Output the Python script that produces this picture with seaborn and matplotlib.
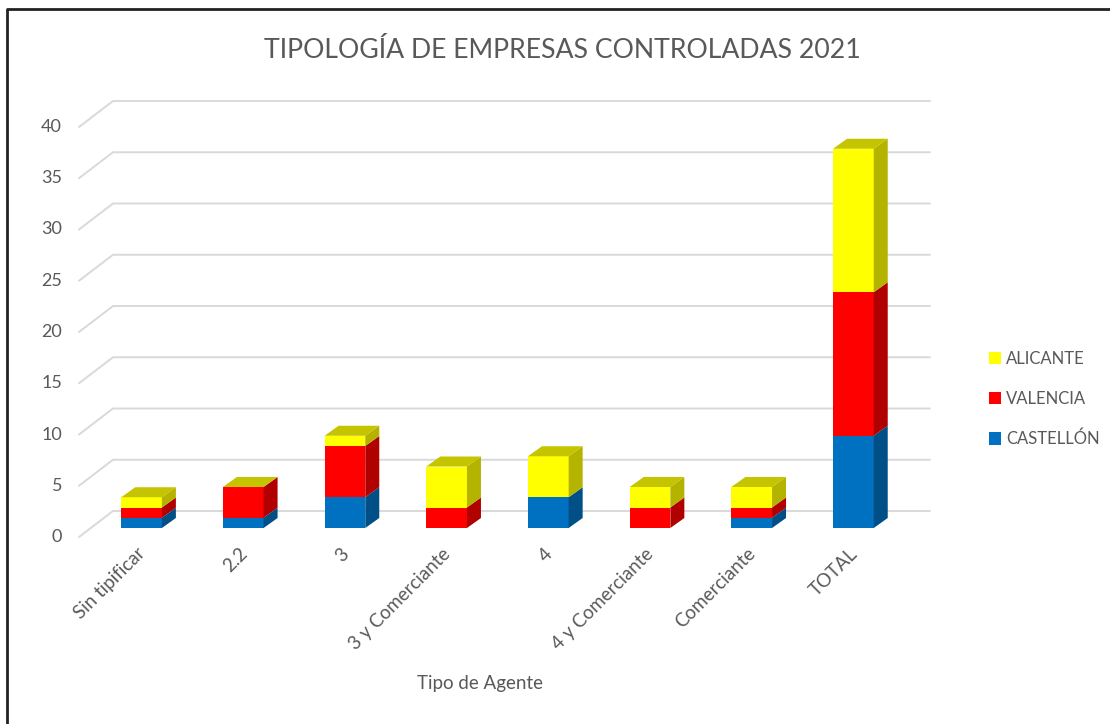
import numpy as np
import seaborn as sns
import matplotlib.pyplot as plt
from matplotlib.patches import Polygon, Patch
from matplotlib.lines import Line2D
from matplotlib import transforms

# datos
categorias = ["Sin tipificar", "2.2", "3", "3 y Comerciante", "4", "4 y Comerciante", "Comerciante", "TOTAL"]
castellon = [1, 1, 3, 0, 3, 0, 1, 9]
valencia = [1, 3, 5, 2, 0, 2, 1, 14]
alicante = [1, 0, 1, 4, 4, 2, 2, 14]
provincias = ["CASTELLÓN", "VALENCIA", "ALICANTE"]
yticks = list(range(0, 45, 5))

colores = {"CASTELLÓN": ("#0070C0", "#004F86"),
           "VALENCIA": ("#FF0000", "#B00000"),
           "ALICANTE": ("#FFFF00", "#B3B300")}
color_tapa = "#C4C400"
gris = "#595959"
gris_grid = "#D9D9D9"

sns.set_style("white")
plt.rcParams["font.family"] = ["Lato", "DejaVu Sans"]

W, H = 1110, 724
fig = plt.figure(figsize=(W / 100, H / 100), dpi=100)
ax = fig.add_axes([91 / W, (H - 528) / H, (908 - 91) / W, 430.5 / H])

valores = np.array([castellon, valencia, alicante])
tops = valores.cumsum(axis=0)
bottoms = tops - valores

# caras frontales, de la capa mas alta a la mas baja
for k in reversed(range(3)):
    sns.barplot(x=categorias, y=tops[k], order=categorias, color=colores[provincias[k]][0],
                saturation=1, width=0.4, linewidth=0, ax=ax, zorder=3)

ax.set_xlim(-0.497, 7.537)
ax.set_ylim(0, 42)
ax.set_axis_off()

ident = transforms.IdentityTransform()
depth = (14, 10)          # profundidad de las barras (px)
front = (-12, -9)         # plano de las etiquetas
back = (22, 17)           # plano de la rejilla


def disp(x, y):
    return ax.transData.transform((x, y))


# rejilla en perspectiva
x0 = ax.transAxes.transform((0, 0))[0]
x1 = ax.transAxes.transform((1, 0))[0]
for yv in yticks:
    Y = disp(0, yv)[1]
    ax.add_line(Line2D([x0 + front[0], x0 + back[0], x1 + back[0]],
                       [Y + front[1], Y + back[1], Y + back[1]],
                       transform=ident, color=gris_grid, lw=1.4, zorder=1, clip_on=False))
    ax.text(x0 + front[0] - 17, Y + front[1], str(yv), transform=ident, ha="right", va="center",
            fontsize=13, color=gris)

# caras laterales y superiores
barras = ax.patches[:len(categorias)]
for i, bar in enumerate(barras):
    xl = bar.get_x()
    xr = xl + bar.get_width()
    for k in range(3):
        if valores[k, i] <= 0:
            continue
        (XR, YB) = disp(xr, bottoms[k, i])
        (_, YT) = disp(xr, tops[k, i])
        pts = [(XR, YB), (XR, YT), (XR + depth[0], YT + depth[1]), (XR + depth[0], YB + depth[1])]
        ax.add_patch(Polygon(pts, closed=True, transform=ident, facecolor=colores[provincias[k]][1],
                             edgecolor="none", zorder=3, clip_on=False))
    (XL, YT) = disp(xl, tops[2, i])
    XR = disp(xr, 0)[0]
    pts = [(XL, YT), (XR, YT), (XR + depth[0], YT + depth[1]), (XL + depth[0], YT + depth[1])]
    ax.add_patch(Polygon(pts, closed=True, transform=ident, facecolor=color_tapa,
                         edgecolor="none", zorder=3, clip_on=False))
    # etiqueta del eje x
    XC, Y0 = disp(i, 0)
    ax.text(XC + 1, Y0 - 23, categorias[i], transform=ident, rotation=45, rotation_mode="anchor",
            ha="right", va="center", fontsize=13.5, color=gris)

fig.text(562 / W, 1 - 50 / H, "TIPOLOGÍA DE EMPRESAS CONTROLADAS 2021", ha="center", va="center",
         fontsize=19.2, color=gris)
fig.text(480 / W, 1 - 683 / H, "Tipo de Agente", ha="center", va="center", fontsize=13.5, color=gris)

handles = [Patch(facecolor=colores[p][0], edgecolor="none", label=p) for p in reversed(provincias)]
fig.legend(handles=handles, loc="center left", bbox_to_anchor=(977 / W, 1 - 399 / H), frameon=False,
           handlelength=0.75, handleheight=0.75, handletextpad=0.3, labelspacing=1.45,
           fontsize=12, labelcolor=gris, borderpad=0.2)

# marco de la imagen
fig.add_artist(Line2D([7 / W, 7 / W, 1], [0, 1 - 9 / H, 1 - 9 / H], transform=fig.transFigure,
                      color="#222222", lw=2))

fig.savefig("out.png", dpi=100)
